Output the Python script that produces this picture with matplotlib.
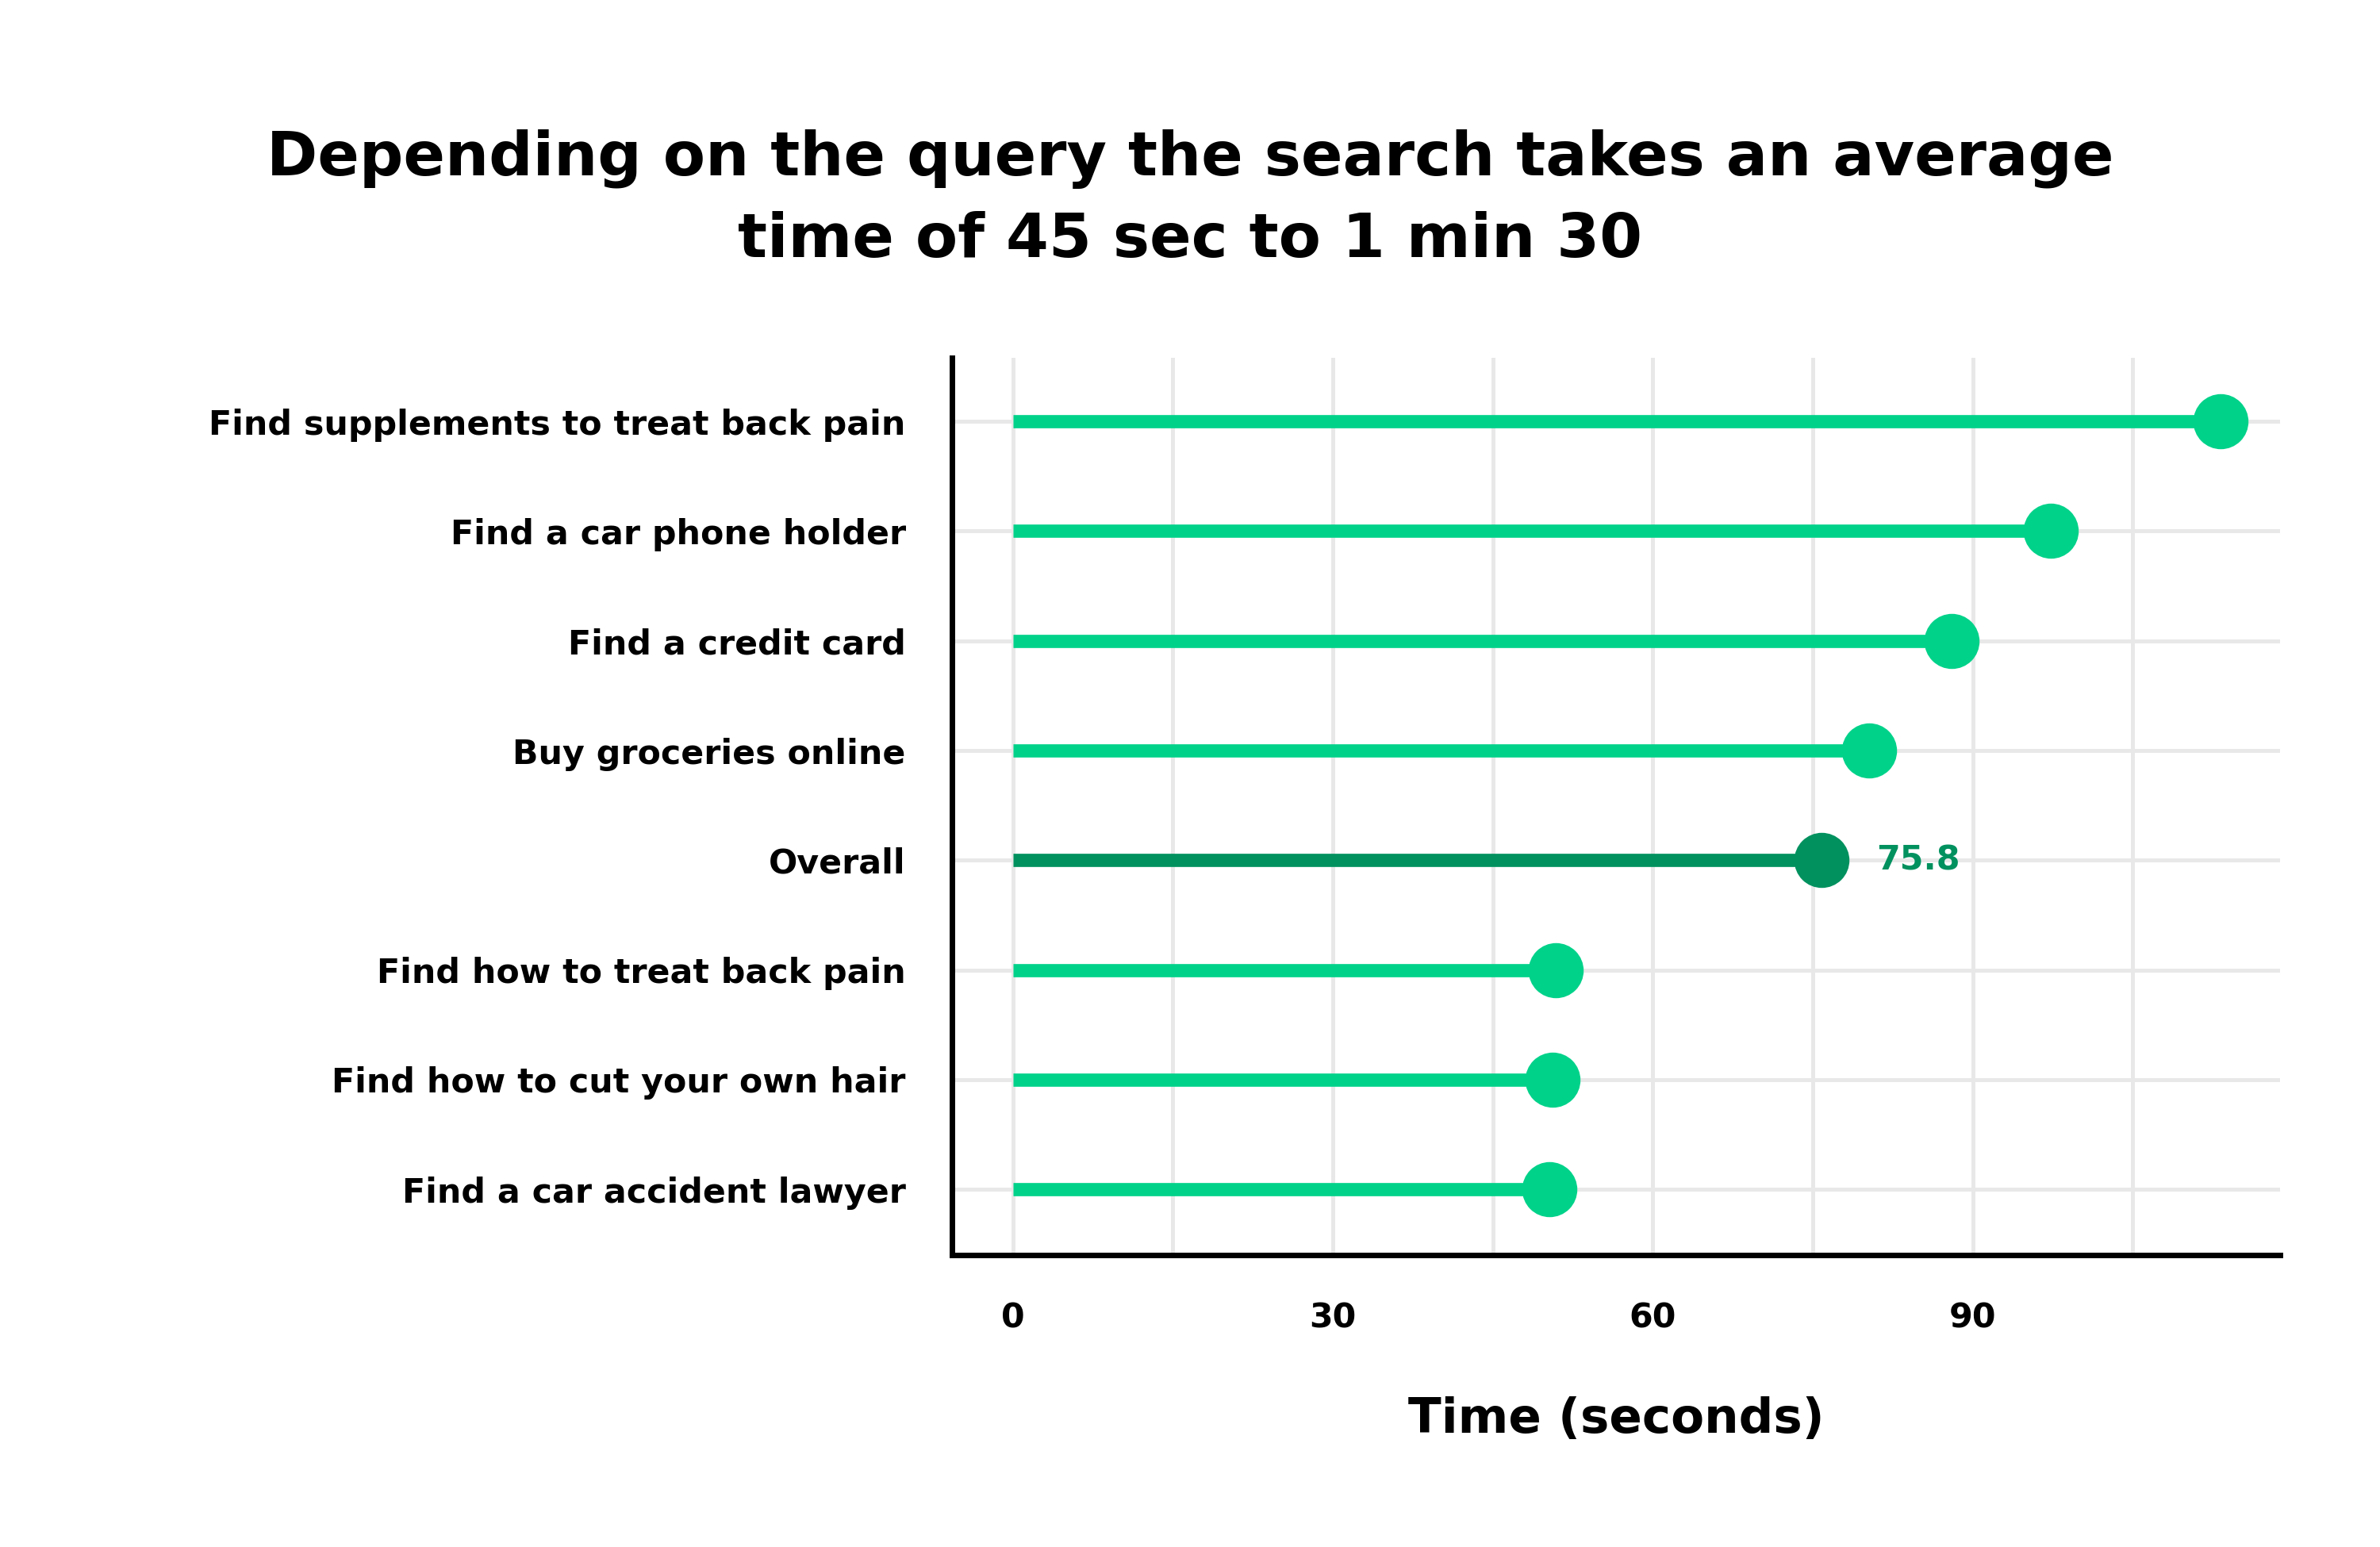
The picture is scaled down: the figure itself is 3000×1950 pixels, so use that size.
import matplotlib
matplotlib.use("Agg")
import matplotlib.pyplot as plt

plt.rcParams['font.family'] = ['DejaVu Sans']

# data, top row first
tasks = [
    'Find supplements to treat back pain',
    'Find a car phone holder',
    'Find a credit card',
    'Buy groceries online',
    'Overall',
    'Find how to treat back pain',
    'Find how to cut your own hair',
    'Find a car accident lawyer',
]
seconds = [113.2, 97.3, 88.0, 80.3, 75.8, 50.9, 50.6, 50.3]
highlight = 'Overall'
x_ticks = [0, 30, 60, 90]

light_green = '#00d28a'
dark_green = '#00915f'

fig = plt.figure(figsize=(15, 9.75), dpi=200)
ax = fig.add_axes([0.4, 0.1887, 0.558, 0.58])

ypos = list(range(len(tasks)))[::-1]
for y, name, val in zip(ypos, tasks, seconds):
    c = dark_green if name == highlight else light_green
    ax.plot([0, val], [y, y], color=c, lw=6, solid_capstyle='butt', zorder=3)
    ax.plot(val, y, 'o', color=c, ms=24, zorder=4)
    if name == highlight:
        ax.annotate(f'{val}', (val, y), xytext=(25, 0), textcoords='offset points',
                    va='center', ha='left', fontsize=15.4, fontweight='bold', color=dark_green)

ax.set_xlim(-5.7, 118.8)
ax.set_ylim(-0.6, len(tasks) - 0.42)

# grid every 15 s, labels only every 30
for gx in range(0, 106, 15):
    ax.axvline(gx, color='#e8e8e8', lw=1.8, zorder=1)
for y in ypos:
    ax.axhline(y, color='#e8e8e8', lw=1.8, zorder=1)

ax.set_xticks(x_ticks)
ax.set_xticklabels([str(t) for t in x_ticks], fontsize=15.4, fontweight='bold')
ax.set_yticks(ypos)
ax.set_yticklabels(tasks, fontsize=15.4, fontweight='bold')
ax.tick_params(axis='both', length=0)
ax.tick_params(axis='x', pad=21)
ax.tick_params(axis='y', pad=21)

for s in ['top', 'right']:
    ax.spines[s].set_visible(False)
for s in ['left', 'bottom']:
    ax.spines[s].set_linewidth(2.5)
    ax.spines[s].set_color('black')

ax.set_xlabel('Time (seconds)', fontsize=22, fontweight='bold', labelpad=28)

fig.text(0.5, 0.871, 'Depending on the query the search takes an average\ntime of 45 sec to 1 min 30',
         ha='center', va='center', fontsize=27.9, fontweight='bold', linespacing=1.48)

fig.savefig('out.png', dpi=200, facecolor='white')
